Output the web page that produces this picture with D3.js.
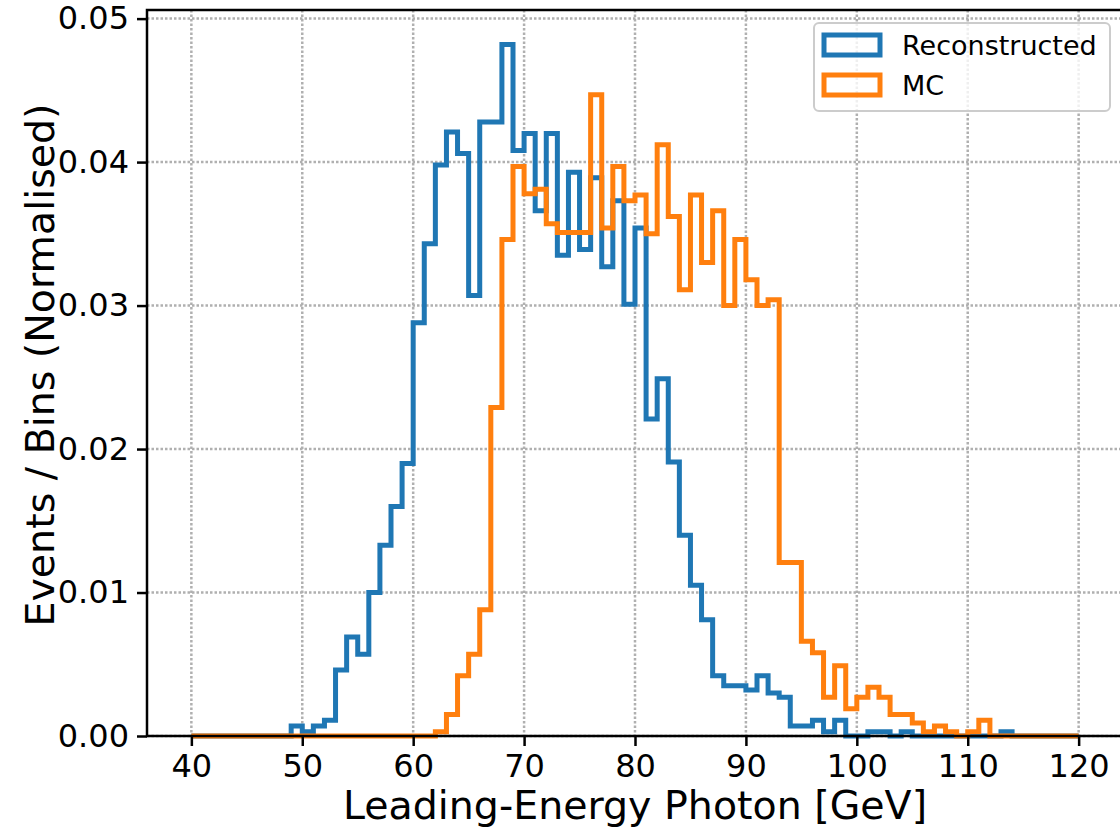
<html>
<head>
<script src="https://d3js.org/d3.v7.min.js"></script>
<style>
body { margin: 0; background: white; }
text { font-family: "DejaVu Sans", sans-serif; fill: black; }
</style>
</head>
<body>
<svg width="1120" height="832"></svg>
<script>
// bin edges: 1 GeV bins from 40 to 120
var binStart = 40;
var binEnd = 120;

// Reconstructed, one value per bin (40..119)
var reco = [
  0, 0, 0, 0, 0, 0, 0, 0, 0, 0.0007,                          // 40-49
  0.0003, 0.0007, 0.0011, 0.0046, 0.0069, 0.0057, 0.0100, 0.0133, 0.0160, 0.0190, // 50-59
  0.0288, 0.0343, 0.0398, 0.0421, 0.0406, 0.0307, 0.0428, 0.0428, 0.0482, 0.0408, // 60-69
  0.0420, 0.0366, 0.0420, 0.0335, 0.0393, 0.0339, 0.0389, 0.0327, 0.0373, 0.0301, // 70-79
  0.0354, 0.0221, 0.0249, 0.0191, 0.0140, 0.0105, 0.0081, 0.0042, 0.0035, 0.0035, // 80-89
  0.0032, 0.0042, 0.0030, 0.0027, 0.0007, 0.0007, 0.0011, 0.0003, 0.0011, 0,      // 90-99
  0, 0.0003, 0.0003, 0, 0.0003, 0, 0, 0, 0, 0,                                    // 100-109
  0, 0, 0, 0.0003, 0, 0, 0, 0, 0, 0                                               // 110-119
];

// MC truth, one value per bin (40..119)
var mc = [
  0, 0, 0, 0, 0, 0, 0, 0, 0, 0,                                                   // 40-49
  0, 0, 0, 0, 0, 0, 0, 0, 0, 0,                                                   // 50-59
  0, 0, 0.0003, 0.0015, 0.0042, 0.0057, 0.0088, 0.0229, 0.0346, 0.0397,           // 60-69
  0.0378, 0.0381, 0.0357, 0.0351, 0.0351, 0.0351, 0.0447, 0.0354, 0.0397, 0.0373, // 70-79
  0.0377, 0.0350, 0.0412, 0.0362, 0.0311, 0.0377, 0.0330, 0.0366, 0.0300, 0.0346, // 80-89
  0.0318, 0.0300, 0.0304, 0.0121, 0.0121, 0.0066, 0.0058, 0.0027, 0.0049, 0.0019, // 90-99
  0.0027, 0.0034, 0.0027, 0.0015, 0.0015, 0.0009, 0.0003, 0.0007, 0.0003, 0,      // 100-109
  0.0003, 0.0011, 0, 0, 0, 0, 0, 0, 0, 0                                          // 110-119
];

var xTicks = [40, 50, 60, 70, 80, 90, 100, 110, 120];
var yTicks = [0, 0.01, 0.02, 0.03, 0.04, 0.05];
var seriesNames = ["Reconstructed", "MC"];
var seriesColors = ["#1f77b4", "#ff7f0e"];

var pLeft = 147, pRight = 1123, pTop = 10, pBottom = 736;

var x = d3.scaleLinear().domain([36, 124]).range([pLeft, pRight]);
var y = d3.scaleLinear().domain([0, 0.0506]).range([pBottom, pTop]);

var svg = d3.select("svg");

// grid
var grid = svg.append("g");
grid.selectAll("line.vx").data(xTicks).enter().append("line")
  .attr("x1", function(d) { return x(d); })
  .attr("x2", function(d) { return x(d); })
  .attr("y1", pTop).attr("y2", pBottom)
  .attr("stroke", "#b0b0b0").attr("stroke-width", 2.5)
  .attr("stroke-dasharray", "2.5,2");
grid.selectAll("line.hy").data(yTicks).enter().append("line")
  .attr("y1", function(d) { return y(d); })
  .attr("y2", function(d) { return y(d); })
  .attr("x1", pLeft).attr("x2", pRight)
  .attr("stroke", "#b0b0b0").attr("stroke-width", 2.5)
  .attr("stroke-dasharray", "2.5,2");

// step outline for a histogram
function stepPoints(vals) {
  var pts = [[binStart, 0]];
  vals.forEach(function(v, i) { pts.push([binStart + i, v]); });
  pts.push([binEnd, 0]);
  return pts;
}
var line = d3.line()
  .x(function(d) { return x(d[0]); })
  .y(function(d) { return y(d[1]); })
  .curve(d3.curveStepAfter);

[reco, mc].forEach(function(vals, i) {
  svg.append("path")
    .attr("d", line(stepPoints(vals)))
    .attr("fill", "none")
    .attr("stroke", seriesColors[i])
    .attr("stroke-width", 5)
    .attr("stroke-linejoin", "miter");
});

// axes
var xAxis = svg.append("g")
  .attr("transform", "translate(0," + pBottom + ")")
  .call(d3.axisBottom(x).tickValues(xTicks).tickSize(10).tickPadding(8).tickFormat(d3.format("d")));
var yAxis = svg.append("g")
  .attr("transform", "translate(" + pLeft + ",0)")
  .call(d3.axisLeft(y).tickValues(yTicks).tickSize(10).tickPadding(8).tickFormat(d3.format(".2f")));
[xAxis, yAxis].forEach(function(g) {
  g.select(".domain").remove();
  g.selectAll(".tick line").attr("stroke", "black").attr("stroke-width", 2.5);
  g.selectAll(".tick text").attr("font-size", 32).attr("font-family", "DejaVu Sans").attr("fill", "black");
});

// spines
svg.append("rect")
  .attr("x", pLeft).attr("y", pTop)
  .attr("width", pRight - pLeft).attr("height", pBottom - pTop)
  .attr("fill", "none").attr("stroke", "black").attr("stroke-width", 2.5);

// axis labels
svg.append("text")
  .attr("x", (pLeft + pRight) / 2).attr("y", 819)
  .attr("text-anchor", "middle").attr("font-size", 39.5)
  .text("Leading-Energy Photon [GeV]");
svg.append("text")
  .attr("transform", "translate(54," + ((pTop + pBottom) / 2 - 8) + ") rotate(-90)")
  .attr("text-anchor", "middle").attr("font-size", 39.5)
  .text("Events / Bins (Normalised)");

// legend
var lg = svg.append("g");
lg.append("rect")
  .attr("x", 814).attr("y", 23).attr("width", 296).attr("height", 88).attr("rx", 5)
  .attr("fill", "white").attr("fill-opacity", 0.8)
  .attr("stroke", "#cccccc").attr("stroke-width", 2);
seriesNames.forEach(function(name, i) {
  lg.append("rect")
    .attr("x", 824).attr("y", 35 + i * 40).attr("width", 56).attr("height", 20)
    .attr("fill", "none").attr("stroke", seriesColors[i]).attr("stroke-width", 5);
  lg.append("text")
    .attr("x", 902).attr("y", 55 + i * 40)
    .attr("font-size", 27)
    .text(name);
});
</script>
</body>
</html>
